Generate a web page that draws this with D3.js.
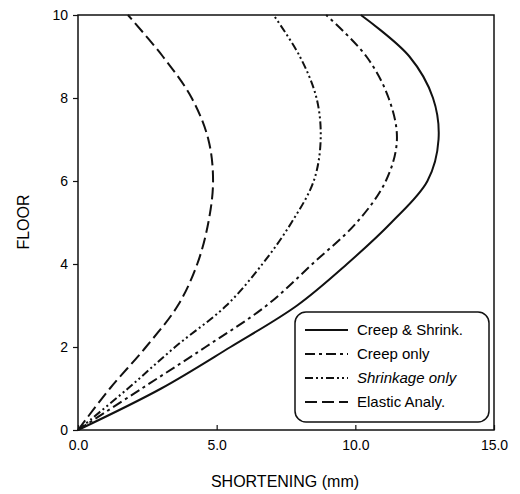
<!DOCTYPE html>
<html>
<head>
<meta charset="utf-8">
<script src="https://cdn.jsdelivr.net/npm/d3@7"></script>
<style>
  body { margin: 0; background: #fff; }
  svg { display: block; font-family: "Liberation Sans", Arial, sans-serif; }
</style>
</head>
<body>
<svg id="chart" width="520" height="494"></svg>
<script>
const floors = [0, 1, 2, 3, 4, 5, 6, 7, 8, 9, 10];
const creepShrink = [0, 3.0, 5.5, 7.9, 9.7, 11.3, 12.6, 13.0, 12.8, 11.95, 10.2];
const creepOnly = [0, 2.3, 4.6, 6.8, 8.45, 10.05, 11.1, 11.5, 11.2, 10.4, 8.95];
const shrinkOnly = [0, 1.8, 3.5, 5.35, 6.65, 7.7, 8.5, 8.75, 8.6, 8.0, 7.05];
const elastic = [0, 1.15, 2.45, 3.6, 4.3, 4.7, 4.87, 4.7, 4.1, 3.06, 1.8];
const seriesNames = ["Creep & Shrink.", "Creep only", "Shrinkage only", "Elastic Analy."];
const xTicks = [0, 5, 10, 15];
const yTicks = [0, 2, 4, 6, 8, 10];

const dashes = ["none", "10,4,3,4", "8,3,2,3,2,3", "12,5"];
const series = [creepShrink, creepOnly, shrinkOnly, elastic];

const svg = d3.select("#chart");
const m = {left: 78, right: 494, top: 15, bottom: 430};
const x = d3.scaleLinear().domain([0, 15]).range([m.left, m.right]);
const y = d3.scaleLinear().domain([0, 10]).range([m.bottom, m.top]);

// frame
svg.append("rect").attr("x", m.left).attr("y", m.top)
  .attr("width", m.right - m.left).attr("height", m.bottom - m.top)
  .attr("fill", "none").attr("stroke", "#111").attr("stroke-width", 1.5);

// y axis (outward ticks)
const ya = svg.append("g").attr("transform", `translate(${m.left},0)`)
  .call(d3.axisLeft(y).tickValues(yTicks).tickFormat(d3.format("d")).tickSize(5).tickPadding(5));
ya.select(".domain").remove();
ya.selectAll("line").attr("stroke", "#111").attr("stroke-width", 1.2);
ya.selectAll("text").attr("font-size", 14).attr("fill", "#000")
  .attr("font-family", "'Liberation Sans', Arial, sans-serif");

// x axis (inward ticks)
const xa = svg.append("g").attr("transform", `translate(0,${m.bottom})`)
  .call(d3.axisBottom(x).tickValues(xTicks).tickFormat(d3.format(".1f")).tickSize(-5).tickPadding(10));
xa.select(".domain").remove();
xa.selectAll("line").attr("stroke", "#111").attr("stroke-width", 1.2);
xa.selectAll("text").attr("font-size", 14).attr("fill", "#000")
  .attr("font-family", "'Liberation Sans', Arial, sans-serif");

// axis titles
svg.append("text").attr("x", 285).attr("y", 487).attr("text-anchor", "middle")
  .attr("font-size", 16).attr("fill", "#000").text("SHORTENING (mm)");
svg.append("text").attr("transform", "translate(29,222) rotate(-90)")
  .attr("text-anchor", "middle").attr("font-size", 16).attr("fill", "#000").text("FLOOR");

// curves
const line = d3.line().x(d => x(d[0])).y(d => y(d[1])).curve(d3.curveCatmullRom.alpha(0.5));
series.forEach((vals, i) => {
  svg.append("path")
    .attr("d", line(vals.map((v, k) => [v, floors[k]])))
    .attr("fill", "none").attr("stroke", "#111").attr("stroke-width", 2)
    .attr("stroke-dasharray", dashes[i]);
});

// legend
const lg = svg.append("g");
lg.append("rect").attr("x", 295).attr("y", 312).attr("width", 194).attr("height", 110)
  .attr("rx", 11).attr("fill", "#fff").attr("stroke", "#111").attr("stroke-width", 1.5);
seriesNames.forEach((name, i) => {
  const yy = 330 + i * 24;
  lg.append("line").attr("x1", 305).attr("x2", 348).attr("y1", yy).attr("y2", yy)
    .attr("stroke", "#111").attr("stroke-width", 2).attr("stroke-dasharray", dashes[i]);
  lg.append("text").attr("x", 357).attr("y", yy + 5).attr("font-size", 15).attr("fill", "#000")
    .attr("font-style", i === 2 ? "italic" : "normal").text(name);
});
</script>
</body>
</html>
